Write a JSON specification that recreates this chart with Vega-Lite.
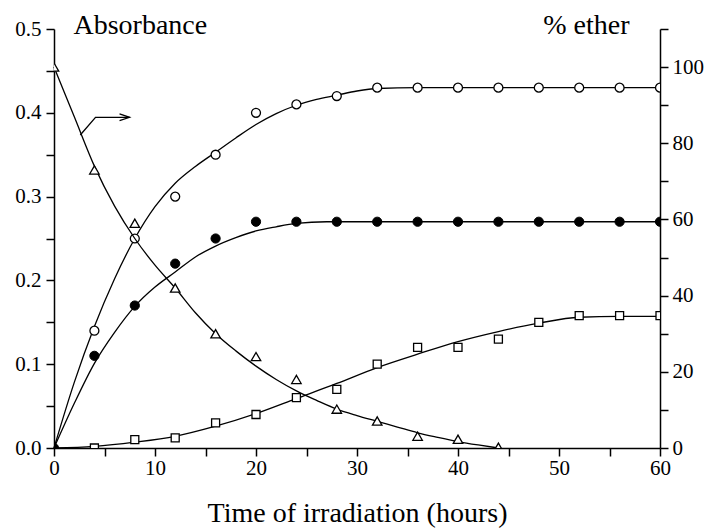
{
  "$schema": "https://vega.github.io/schema/vega-lite/v6.json",
  "width": 606,
  "height": 419,
  "autosize": {"type": "none"},
  "padding": {"left": 54, "top": 29, "right": 46, "bottom": 80},
  "background": "white",
  "config": {
    "view": {"stroke": null},
    "font": "Liberation Serif",
    "axis": {
      "grid": false,
      "domainColor": "black",
      "domainWidth": 1.5,
      "tickColor": "black",
      "tickWidth": 1.5,
      "labelColor": "black",
      "labelFont": "Liberation Serif",
      "labelFontSize": 21,
      "labelOverlap": false,
      "labelFlush": false,
      "titleFont": "Liberation Serif",
      "titleFontSize": 28,
      "titleFontWeight": "normal",
      "titleColor": "black"
    }
  },
  "datasets": {
    "obs": [
      {"series": "open", "t": 4, "v": 0.14},
      {"series": "open", "t": 8, "v": 0.25},
      {"series": "open", "t": 12, "v": 0.30},
      {"series": "open", "t": 16, "v": 0.35},
      {"series": "open", "t": 20, "v": 0.40},
      {"series": "open", "t": 24, "v": 0.41},
      {"series": "open", "t": 28, "v": 0.42},
      {"series": "open", "t": 32, "v": 0.43},
      {"series": "open", "t": 36, "v": 0.43},
      {"series": "open", "t": 40, "v": 0.43},
      {"series": "open", "t": 44, "v": 0.43},
      {"series": "open", "t": 48, "v": 0.43},
      {"series": "open", "t": 52, "v": 0.43},
      {"series": "open", "t": 56, "v": 0.43},
      {"series": "open", "t": 60, "v": 0.43},
      {"series": "filled", "t": 0, "v": 0},
      {"series": "filled", "t": 4, "v": 0.11},
      {"series": "filled", "t": 8, "v": 0.17},
      {"series": "filled", "t": 12, "v": 0.22},
      {"series": "filled", "t": 16, "v": 0.25},
      {"series": "filled", "t": 20, "v": 0.27},
      {"series": "filled", "t": 24, "v": 0.27},
      {"series": "filled", "t": 28, "v": 0.27},
      {"series": "filled", "t": 32, "v": 0.27},
      {"series": "filled", "t": 36, "v": 0.27},
      {"series": "filled", "t": 40, "v": 0.27},
      {"series": "filled", "t": 44, "v": 0.27},
      {"series": "filled", "t": 48, "v": 0.27},
      {"series": "filled", "t": 52, "v": 0.27},
      {"series": "filled", "t": 56, "v": 0.27},
      {"series": "filled", "t": 60, "v": 0.27},
      {"series": "square", "t": 4, "v": 0.0},
      {"series": "square", "t": 8, "v": 0.01},
      {"series": "square", "t": 12, "v": 0.012},
      {"series": "square", "t": 16, "v": 0.03},
      {"series": "square", "t": 20, "v": 0.04},
      {"series": "square", "t": 24, "v": 0.06},
      {"series": "square", "t": 28, "v": 0.07},
      {"series": "square", "t": 32, "v": 0.10},
      {"series": "square", "t": 36, "v": 0.12},
      {"series": "square", "t": 40, "v": 0.12},
      {"series": "square", "t": 44, "v": 0.13},
      {"series": "square", "t": 48, "v": 0.15},
      {"series": "square", "t": 52, "v": 0.158},
      {"series": "square", "t": 56, "v": 0.158},
      {"series": "square", "t": 60, "v": 0.158}
    ],
    "fit": [
      {"series": "open", "t": 0, "v": 0},
      {"series": "open", "t": 2, "v": 0.078},
      {"series": "open", "t": 4, "v": 0.145},
      {"series": "open", "t": 6, "v": 0.202},
      {"series": "open", "t": 8, "v": 0.25},
      {"series": "open", "t": 10, "v": 0.288},
      {"series": "open", "t": 12, "v": 0.316},
      {"series": "open", "t": 14, "v": 0.336},
      {"series": "open", "t": 16, "v": 0.353},
      {"series": "open", "t": 18, "v": 0.370},
      {"series": "open", "t": 20, "v": 0.386},
      {"series": "open", "t": 22, "v": 0.399},
      {"series": "open", "t": 24, "v": 0.409},
      {"series": "open", "t": 26, "v": 0.416},
      {"series": "open", "t": 28, "v": 0.421},
      {"series": "open", "t": 30, "v": 0.426},
      {"series": "open", "t": 32, "v": 0.429},
      {"series": "open", "t": 36, "v": 0.43},
      {"series": "open", "t": 60, "v": 0.43},
      {"series": "filled", "t": 0, "v": 0},
      {"series": "filled", "t": 2, "v": 0.053},
      {"series": "filled", "t": 4, "v": 0.101},
      {"series": "filled", "t": 6, "v": 0.138},
      {"series": "filled", "t": 8, "v": 0.169},
      {"series": "filled", "t": 10, "v": 0.192},
      {"series": "filled", "t": 12, "v": 0.210},
      {"series": "filled", "t": 14, "v": 0.228},
      {"series": "filled", "t": 16, "v": 0.241},
      {"series": "filled", "t": 18, "v": 0.251},
      {"series": "filled", "t": 20, "v": 0.259},
      {"series": "filled", "t": 22, "v": 0.264},
      {"series": "filled", "t": 24, "v": 0.268},
      {"series": "filled", "t": 27, "v": 0.27},
      {"series": "filled", "t": 60, "v": 0.27},
      {"series": "square", "t": 0, "v": 0},
      {"series": "square", "t": 4, "v": 0.002},
      {"series": "square", "t": 8, "v": 0.007},
      {"series": "square", "t": 12, "v": 0.014},
      {"series": "square", "t": 16, "v": 0.026},
      {"series": "square", "t": 20, "v": 0.041},
      {"series": "square", "t": 24, "v": 0.059},
      {"series": "square", "t": 28, "v": 0.077},
      {"series": "square", "t": 32, "v": 0.096},
      {"series": "square", "t": 36, "v": 0.112},
      {"series": "square", "t": 40, "v": 0.127},
      {"series": "square", "t": 44, "v": 0.139},
      {"series": "square", "t": 48, "v": 0.149},
      {"series": "square", "t": 52, "v": 0.156},
      {"series": "square", "t": 56, "v": 0.157},
      {"series": "square", "t": 60, "v": 0.157}
    ],
    "arrow": [
      {"part": "lead", "i": 0, "t": 2.6, "v": 0.3735},
      {"part": "lead", "i": 1, "t": 4.11, "v": 0.3946},
      {"part": "lead", "i": 2, "t": 7.48, "v": 0.3946},
      {"part": "head", "i": 0, "t": 6.49, "v": 0.3986},
      {"part": "head", "i": 1, "t": 7.48, "v": 0.3946},
      {"part": "head", "i": 2, "t": 6.49, "v": 0.3906}
    ],
    "ether": [
      {"t": 0, "p": 100},
      {"t": 4, "p": 73},
      {"t": 8, "p": 59},
      {"t": 12, "p": 42},
      {"t": 16, "p": 30},
      {"t": 20, "p": 24},
      {"t": 24, "p": 18},
      {"t": 28, "p": 10.2},
      {"t": 32, "p": 7.1},
      {"t": 36, "p": 3.1},
      {"t": 40, "p": 2.3},
      {"t": 44, "p": 0.2}
    ],
    "etherfit": [
      {"t": 0, "p": 100},
      {"t": 2, "p": 87},
      {"t": 4, "p": 74},
      {"t": 6, "p": 63.5},
      {"t": 8, "p": 55},
      {"t": 10, "p": 48},
      {"t": 12, "p": 42},
      {"t": 14, "p": 35.5},
      {"t": 16, "p": 30},
      {"t": 18, "p": 25.5},
      {"t": 20, "p": 21.5},
      {"t": 22, "p": 18},
      {"t": 24, "p": 15},
      {"t": 26, "p": 12.5},
      {"t": 28, "p": 10.2},
      {"t": 30, "p": 8.5},
      {"t": 32, "p": 7},
      {"t": 34, "p": 5.5},
      {"t": 36, "p": 4},
      {"t": 38, "p": 2.8},
      {"t": 40, "p": 1.7},
      {"t": 42, "p": 0.8},
      {"t": 44, "p": 0}
    ]
  },
  "encoding": {
    "x": {
      "field": "t",
      "type": "quantitative",
      "scale": {"domain": [0, 60], "nice": false, "zero": false},
      "axis": {
        "values": [0, 5, 10, 15, 20, 25, 30, 35, 40, 45, 50, 55, 60],
        "labelExpr": "datum.value % 10 == 0 ? datum.label : ''",
        "tickSize": 8,
        "labelPadding": 1,
        "title": "Time of irradiation (hours)",
        "titleBaseline": "alphabetic",
        "titleY": 73,
        "encode": {"ticks": {"update": {"y2": {"signal": "datum.value % 10 == 0 ? 8 : 4"}}}}
      }
    }
  },
  "layer": [
    {
      "encoding": {
        "y": {
          "field": "v",
          "type": "quantitative",
          "scale": {"domain": [0, 0.5], "nice": false, "zero": false},
          "axis": {
            "orient": "left",
            "values": [0, 0.05, 0.1, 0.15, 0.2, 0.25, 0.3, 0.35, 0.4, 0.45, 0.5],
            "labelExpr": "abs(datum.value * 10 - round(datum.value * 10)) < 0.001 ? format(datum.value, '.1f') : ''",
            "tickSize": 8,
            "labelPadding": 5,
            "title": "Absorbance",
            "titleAngle": 0,
            "titleAlign": "left",
            "titleBaseline": "alphabetic",
            "titleX": 19,
            "titleY": 4,
            "encode": {"ticks": {"update": {"x2": {"signal": "abs(datum.value * 10 - round(datum.value * 10)) < 0.001 ? -8 : -4"}}}}
          }
        }
      },
      "layer": [
        {
          "data": {"name": "fit"},
          "mark": {"type": "line", "interpolate": "monotone", "color": "black", "strokeWidth": 1.3},
          "encoding": {"detail": {"field": "series"}}
        },
        {
          "data": {"name": "arrow"},
          "mark": {"type": "line", "color": "black", "strokeWidth": 1.3},
          "encoding": {"detail": {"field": "part"}, "order": {"field": "i", "type": "quantitative"}}
        },
        {
          "data": {"name": "obs"},
          "transform": [{"filter": "datum.series == 'open'"}],
          "mark": {"type": "point", "shape": "circle", "filled": true, "fill": "white", "stroke": "black", "strokeWidth": 1.3, "size": 80, "opacity": 1, "clip": true},
          "encoding": {}
        },
        {
          "data": {"name": "obs"},
          "transform": [{"filter": "datum.series == 'filled'"}],
          "mark": {"type": "point", "shape": "circle", "filled": true, "fill": "black", "stroke": "black", "strokeWidth": 1, "size": 85, "opacity": 1, "clip": true},
          "encoding": {}
        },
        {
          "data": {"name": "obs"},
          "transform": [{"filter": "datum.series == 'square'"}],
          "mark": {"type": "point", "shape": "square", "filled": true, "fill": "white", "stroke": "black", "strokeWidth": 1.3, "size": 64, "opacity": 1, "clip": true},
          "encoding": {}
        }
      ]
    },
    {
      "encoding": {
        "y": {
          "field": "p",
          "type": "quantitative",
          "scale": {"domain": [0, 110], "nice": false, "zero": false},
          "axis": {
            "orient": "right",
            "values": [0, 10, 20, 30, 40, 50, 60, 70, 80, 90, 100, 110],
            "labelExpr": "datum.value % 20 == 0 && datum.value <= 100 ? datum.label : ''",
            "tickSize": 8,
            "labelPadding": 4,
            "title": "% ether",
            "titleAngle": 0,
            "titleAlign": "right",
            "titleBaseline": "alphabetic",
            "titleX": -31,
            "titleY": 4,
            "encode": {"ticks": {"update": {"x2": {"signal": "datum.value % 20 == 0 ? -8 : -4"}}}}
          }
        }
      },
      "layer": [
        {
          "data": {"name": "etherfit"},
          "mark": {"type": "line", "interpolate": "monotone", "color": "black", "strokeWidth": 1.3},
          "encoding": {}
        },
        {
          "data": {"name": "ether"},
          "mark": {"type": "point", "shape": "triangle-up", "filled": true, "fill": "white", "stroke": "black", "strokeWidth": 1.3, "size": 90, "opacity": 1, "clip": true},
          "encoding": {}
        }
      ]
    }
  ],
  "resolve": {"scale": {"y": "independent"}}
}
